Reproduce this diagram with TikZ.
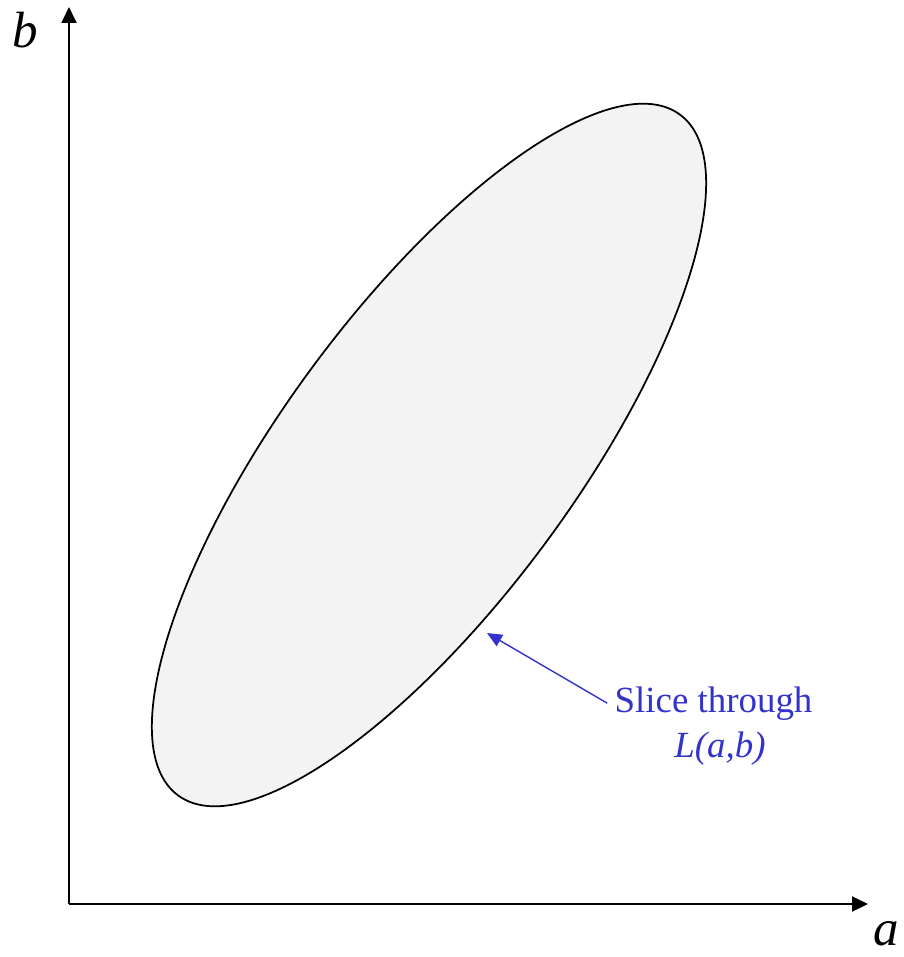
\documentclass[tikz,border=0pt]{standalone}
\usepackage{fontspec}
\setmainfont{Liberation Serif}
\usetikzlibrary{arrows.meta, positioning}
\definecolor{trazo}{RGB}{51,51,204}
\definecolor{relleno}{RGB}{243,243,243}
\tikzset{
  eje/.style={-{Triangle[length=0.32cm, width=0.3cm]}, line width=1.1pt},
  corte/.style={draw, line width=1pt, fill=relleno},
  etiq/.style={font=\fontsize{29}{34}\selectfont\itshape, inner sep=0pt},
  nota/.style={text=trazo, font=\fontsize{21}{25}\selectfont, inner sep=4pt},
  flecha/.style={-{Triangle[length=0.3cm, width=0.26cm]}, line width=0.8pt, trazo}
}
\begin{document}
\begin{tikzpicture}[x=0.02cm, y=-0.02cm]
    \useasboundingbox (0,0) rectangle (903,957);
    % ejes
    \coordinate (O) at (69,904);
    \coordinate (ytop) at (69,7);
    \coordinate (xend) at (868,904);
    \draw[eje] (O) -- (ytop);
    \draw[eje] (O) -- (xend);
    \node[etiq, anchor=base] (lb) at (25,47) {b};
    \node[etiq, anchor=base] (la) at (886,945) {a};
    % la elipse
    \coordinate (ctr) at (429,455);
    \draw[corte] (ctr) ellipse [x radius=8.46cm, y radius=2.92cm, rotate=53.6];
    % nota
    \coordinate (tip) at (487,633);
    \node[nota, anchor=base] (slice) at (713.5,712) {Slice through};
    \node[nota, anchor=base] (lab) at (720,757) {\textit{L(a,b)}};
    \draw[flecha] (slice.west) -- (tip);
\end{tikzpicture}
\end{document}
